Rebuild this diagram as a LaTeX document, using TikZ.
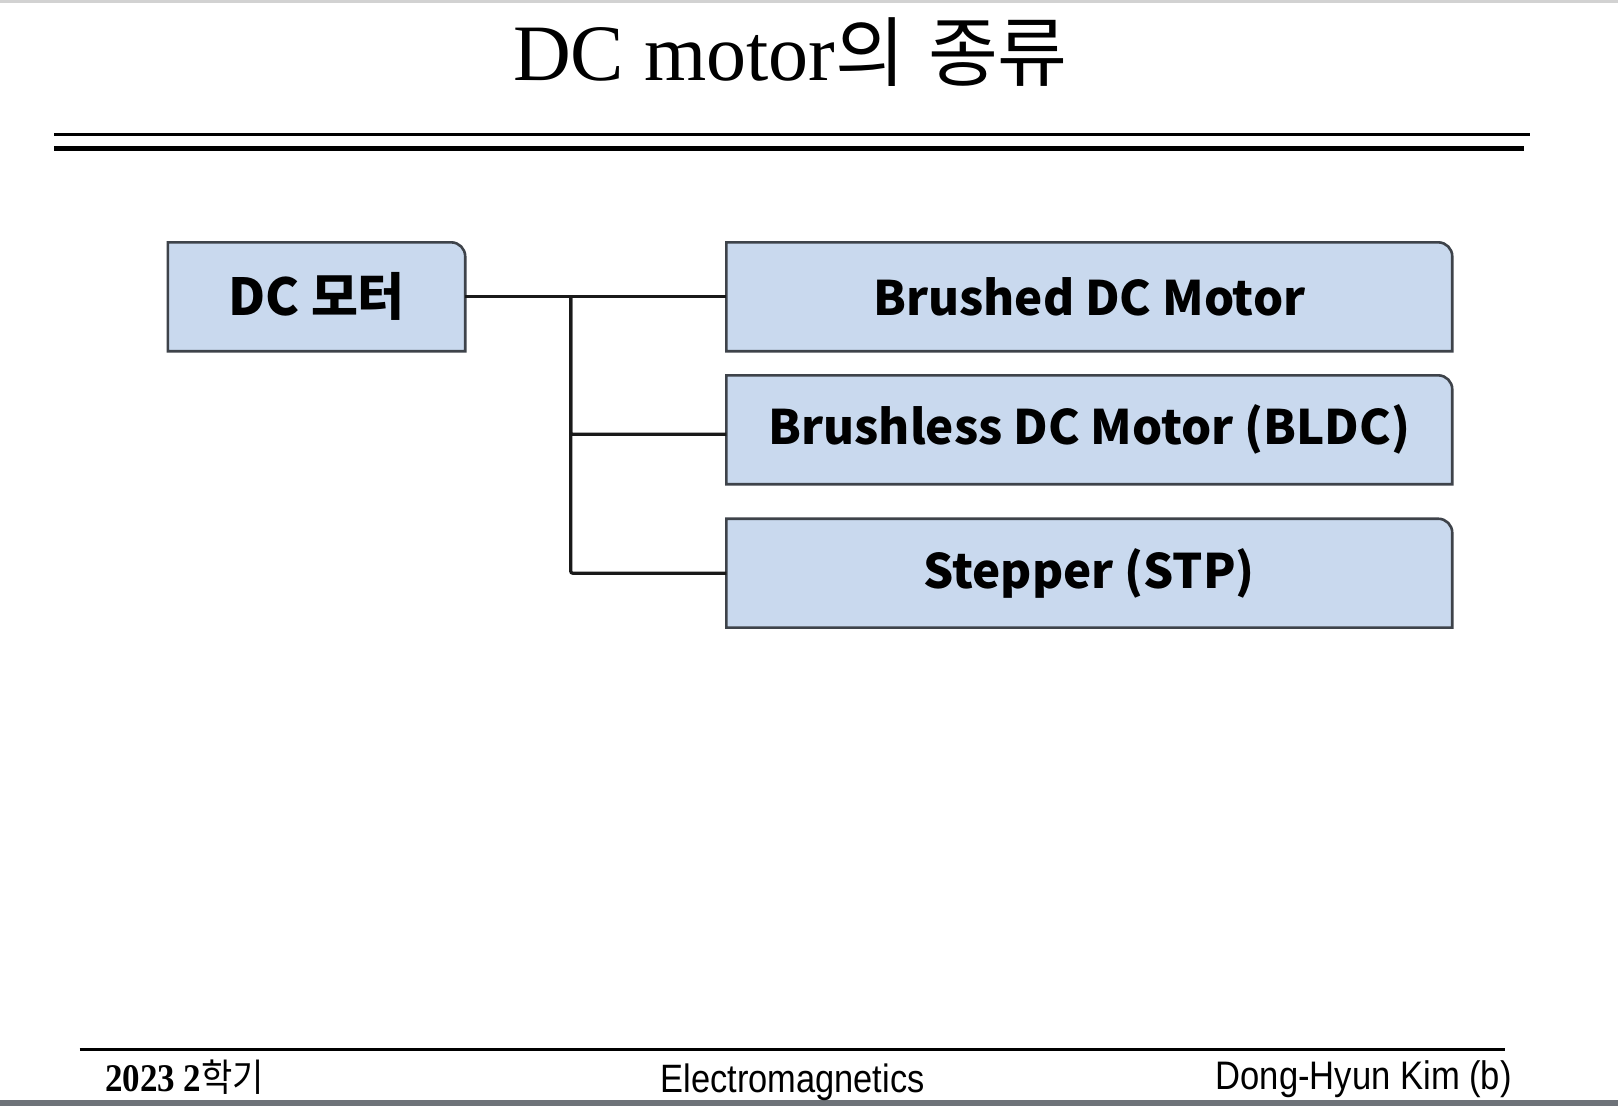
\documentclass[tikz,border=0pt]{standalone}
\usepackage{graphicx}
\usepackage{fontspec}
\setmainfont{Liberation Serif}
\newfontfamily\krfont{Noto Sans CJK KR}
\newfontfamily\footsans{Liberation Sans}
\definecolor{boxfill}{HTML}{C9D9EE}
\definecolor{boxline}{HTML}{3E434A}
\definecolor{barGray}{HTML}{6E7379}
\pgfdeclarelayer{background}
\pgfsetlayers{background,main}
\newcommand\cornerbox[1]{\draw[boxborder] (#1.south west) -- (#1.north west) -- ([xshift=-14pt]#1.north east) arc[start angle=90,end angle=0,radius=14] -- (#1.south east) -- cycle;}
\begin{document}
\begin{tikzpicture}[x=1pt,y=1pt,
  box/.style={minimum width=#1, minimum height=108.5pt, inner sep=0pt, font=\krfont\bfseries\fontsize{47.5}{57}\selectfont},
  boxborder/.style={draw=boxline, line width=2.6pt, fill=boxfill},
  conn/.style={draw=black!90, line width=3.2pt},
  plain/.style={anchor=base, inner sep=0pt}]
\useasboundingbox (0,0) rectangle (1618,1106);

% title
\node[plain, anchor=base west] (title) at (513,1025.5)
  {\fontsize{80}{90}\selectfont DC motor\krfont\fontsize{76}{86}\selectfont 의\hspace{0.3em}종류};
\draw[line width=3pt] (54,971) -- (1530,971);
\draw[line width=5.5pt] (54,957.4) -- (1524,957.4);

% boxes
\node[box=297pt, font=\krfont\bfseries\fontsize{51}{60}\selectfont] (dc) at (316.5,809.2) {DC 모터};
\node[box=725.5pt] (b1) at (1089.3,809.2) {Brushed DC Motor};
\node[box=725.5pt] (b2) at (1089.3,676.2) {Brushless DC Motor (BLDC)};
\node[box=725.5pt] (b3) at (1089.3,532.8) {Stepper (STP)};
\coordinate (jn) at (570.7,809.2);
\begin{pgfonlayer}{background}
\fill[white] (0,0) rectangle (1618,1106);
\fill[gray!35] (0,1103) rectangle (1618,1106);
\fill[barGray] (0,0) rectangle (1618,5.5);
\cornerbox{dc}
\cornerbox{b1}
\cornerbox{b2}
\cornerbox{b3}
\draw[conn] (dc.east) -- (b1.west);
\draw[conn, rounded corners=2pt] (jn) |- ([yshift=-4.5pt]b2.west);
\draw[conn, rounded corners=2pt] (jn) |- (b3.west);
\end{pgfonlayer}

% footer
\draw[line width=3.5pt] (79.5,56.5) -- (1504.7,56.5);
\node[plain, anchor=base west] (sem) at (105,14)
  {\scalebox{1}[1.12]{\bfseries\fontsize{35}{40}\selectfont 2023 2\krfont\mdseries\fontsize{34}{40}\selectfont 학기}};
\node[plain] (course) at (792.6,13)
  {\scalebox{1}[1.15]{\footsans\fontsize{34.4}{40}\selectfont Electromagnetics}};
\node[plain, anchor=base east] (author) at (1512,16)
  {\scalebox{1}[1.15]{\footsans\fontsize{34.6}{40}\selectfont Dong-Hyun Kim (b)}};
\end{tikzpicture}
\end{document}
